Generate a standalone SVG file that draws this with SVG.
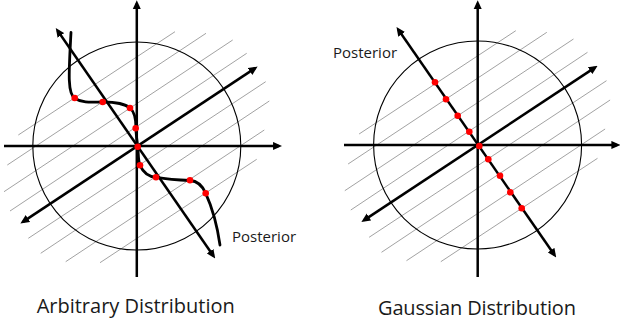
<svg xmlns="http://www.w3.org/2000/svg" xmlns:xlink="http://www.w3.org/1999/xlink" width="621" height="323" viewBox="0 0 621 323">
<style>
.hatch{stroke:#8a8a8a;stroke-width:0.8;fill:none}
.circ{stroke:#000;stroke-width:1.1;fill:none}
.axis{stroke:#000;stroke-width:2.5;fill:none}
.arrow{marker-end:url(#arr)}
.both{marker-start:url(#arr);marker-end:url(#arr)}
.post{stroke:#000;stroke-width:2.8;fill:none;stroke-linecap:round}
.dot{fill:#ff0000}
.lbl{font-family:"Open Sans","Noto Sans","Liberation Sans",sans-serif;fill:#1a1a1a}
</style>
<defs>
<marker id="arr" markerUnits="userSpaceOnUse" markerWidth="9" markerHeight="9" viewBox="0 0 8 8" refX="5" refY="4" orient="auto-start-reverse">
<path d="M0,0.4 L8,4 L0,7.6 z" fill="#000"/>
</marker>
<g id="hatchset" class="hatch">
<line x1="18.3" y1="135" x2="175" y2="31.7"/>
<line x1="7.3" y1="165" x2="206" y2="33.3"/>
<line x1="4" y1="191.7" x2="232.7" y2="40"/>
<line x1="10" y1="211" x2="246.7" y2="53.3"/>
<line x1="28.3" y1="238.3" x2="265.7" y2="81.7"/>
<line x1="40.7" y1="253.3" x2="269.3" y2="101"/>
<line x1="65.7" y1="261.7" x2="264.3" y2="130"/>
<line x1="100" y1="262.7" x2="256.7" y2="159.3"/>
</g>
</defs>

<g id="arbitrary">
<use xlink:href="#hatchset"/>
<circle class="circ" cx="136.8" cy="146" r="104"/>
<g id="axes-left">
<line class="axis" x1="4" y1="146" x2="278.7" y2="146" marker-end="url(#arr)"/>
<line class="axis" x1="136.8" y1="277" x2="136.8" y2="3.5" marker-end="url(#arr)"/>
<line class="axis" x1="23.2" y1="221.6" x2="254.8" y2="68.4" marker-start="url(#arr)" marker-end="url(#arr)"/>
<line class="axis" x1="57.7" y1="30.8" x2="213.3" y2="255.8" marker-start="url(#arr)" marker-end="url(#arr)"/>
</g>
<path class="post" d="M71,32.5 C69,70 67,94 75,98.5 C83,103.5 93,102 103,102 C115,102 124,103 130,108 C135,112 136,120 136,128.3 C136,135 137,141 137.8,146.7 C138.5,154 138,161 140,165.3 C143,172 148,176.5 156,177.3 C167,179 180,180 190,180.5 C198,181 203,187 205.7,193.3 C212,207 217,224 220,245"/>
<g id="dots-left" class="dot">
<circle cx="74.7" cy="98" r="3.3"/>
<circle cx="102.7" cy="102" r="3.3"/>
<circle cx="130" cy="108" r="3.3"/>
<circle cx="135.7" cy="128.3" r="3.3"/>
<circle cx="137.7" cy="146.7" r="3.3"/>
<circle cx="140" cy="165.3" r="3.3"/>
<circle cx="156" cy="177.3" r="3.3"/>
<circle cx="190" cy="180.3" r="3.3"/>
<circle cx="205.7" cy="193.3" r="3.3"/>
</g>
<text class="lbl" x="232" y="241.5" font-size="15">Posterior</text>
<text class="lbl" x="36.7" y="313" font-size="20" textLength="198" lengthAdjust="spacing">Arbitrary Distribution</text>
</g>

<g id="gaussian">
<use xlink:href="#hatchset" transform="translate(340.8,-1)"/>
<circle class="circ" cx="477.6" cy="145" r="104"/>
<g id="axes-right">
<line class="axis" x1="344" y1="145" x2="617" y2="145" marker-end="url(#arr)"/>
<line class="axis" x1="477.7" y1="277" x2="477.7" y2="3.5" marker-end="url(#arr)"/>
<line class="axis" x1="364.2" y1="220.1" x2="594.8" y2="67.6" marker-start="url(#arr)" marker-end="url(#arr)"/>
<line class="axis" x1="398.4" y1="29.8" x2="554.3" y2="254.8" marker-start="url(#arr)" marker-end="url(#arr)"/>
</g>
<g id="dots-right" class="dot">
<circle cx="435" cy="82.3" r="3.3"/>
<circle cx="446" cy="99.3" r="3.3"/>
<circle cx="457.7" cy="115.7" r="3.3"/>
<circle cx="469.3" cy="131.7" r="3.3"/>
<circle cx="479.3" cy="146" r="3.3"/>
<circle cx="488.3" cy="159.3" r="3.3"/>
<circle cx="500" cy="175.7" r="3.3"/>
<circle cx="510.3" cy="192.3" r="3.3"/>
<circle cx="521.7" cy="208.3" r="3.3"/>
</g>
<text class="lbl" x="333" y="58" font-size="15">Posterior</text>
<text class="lbl" x="378" y="315" font-size="20" textLength="198" lengthAdjust="spacing">Gaussian Distribution</text>
</g>
</svg>
